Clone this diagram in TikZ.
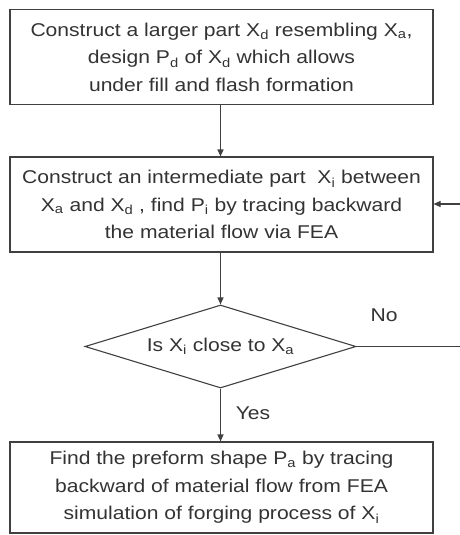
\documentclass[tikz,border=0pt]{standalone}
\usepackage{fontspec}
\setmainfont[FakeStretch=1.14]{Liberation Sans}
\usetikzlibrary{shapes.geometric,arrows.meta}
\begin{document}
\begin{tikzpicture}[x=1pt,y=-1pt,
  every node/.style={text=black!80},
  procbox/.style={draw=black!75,line width=1.1pt,minimum width=423pt,inner sep=0pt,align=center,font=\fontsize{18.5}{27.5}\selectfont},
  decbox/.style={draw=black!75,line width=1.1pt,shape=diamond,shape aspect=3.3,minimum width=271pt,minimum height=83pt,inner sep=0pt,font=\fontsize{18.5}{27}\selectfont},
  flow/.style={draw=black!75,line width=1.1pt,-{Triangle[length=7pt,width=6pt]}},
  lbl/.style={font=\fontsize{18.5}{20}\selectfont}]
\useasboundingbox (0,0) rectangle (459,535);
\node[procbox,minimum height=95pt] (b1) at (221.5,57) {Construct a larger part X\textsubscript{d} resembling X\textsubscript{a},\\ design P\textsubscript{d} of X\textsubscript{d} which allows\\ under fill and flash formation};
\node[procbox,minimum height=95pt] (b2) at (221.5,204.5) {Construct an intermediate part\ \ X\textsubscript{i} between\\ X\textsubscript{a} and X\textsubscript{d} , find P\textsubscript{i} by tracing backward\\ the material flow via FEA};
\node[decbox] (d) at (220.5,346.5) {Is X\textsubscript{i} close to X\textsubscript{a}};
\node[procbox,minimum height=91pt] (b3) at (221.5,487.5) {Find the preform shape P\textsubscript{a} by tracing\\ backward of material flow from FEA\\ simulation of forging process of X\textsubscript{i}};
\coordinate (c1) at (461.5,346.5);
\coordinate (c2) at (461.5,204);
\draw[flow] (b1.south -| d.north) -- (b2.north -| d.north);
\draw[flow] (b2.south -| d.north) -- (d.north);
\draw[flow] (d.south) -- (b3.north -| d.south);
\draw[flow] (d.east) -- (c1) -- (c2) -- (c2 -| b2.east);
\node[lbl] (no) at (384,315) {No};
\node[lbl] (yes) at (253,413) {Yes};
\end{tikzpicture}
\end{document}
